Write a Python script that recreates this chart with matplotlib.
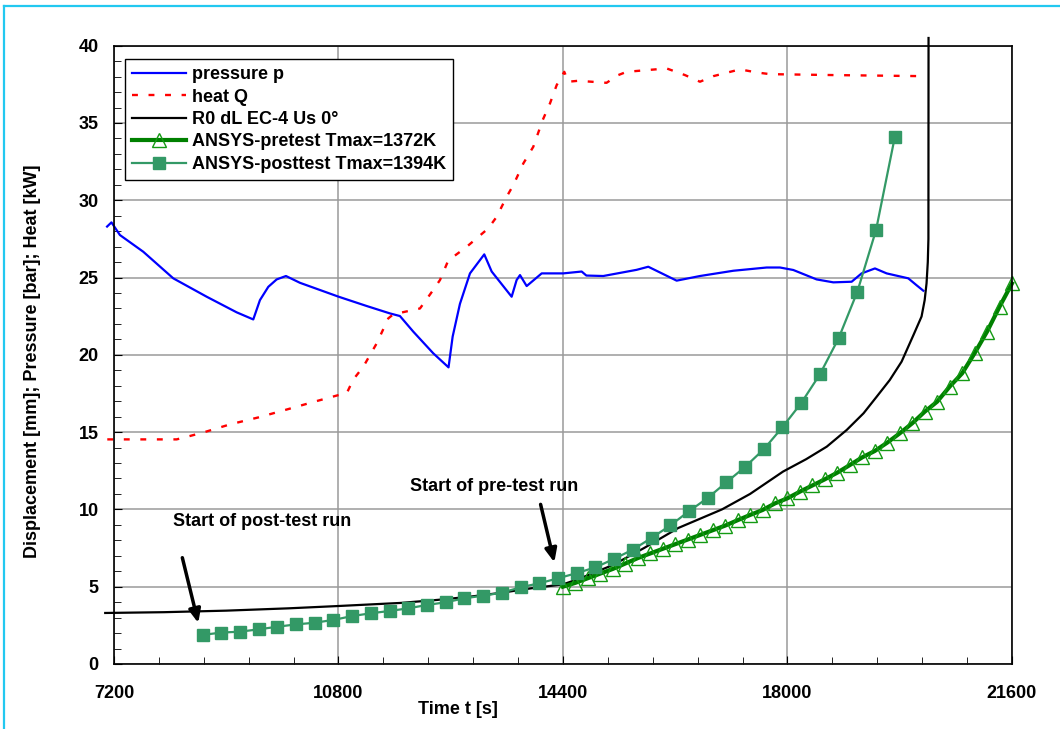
import numpy as np
import matplotlib
matplotlib.use("Agg")
import matplotlib.pyplot as plt
from matplotlib.lines import Line2D
from matplotlib.ticker import MultipleLocator

plt.rcParams['font.family'] = ['Liberation Sans', 'DejaVu Sans']
plt.rcParams['font.weight'] = 'bold'

# pressure p [bar]
pressure_t = [7090, 7160, 7296, 7670, 8151, 8687, 9168, 9434, 9541, 9675,
              9809, 9958, 10183, 10803, 11252, 11626, 11786, 12000, 12320, 12565,
              12631, 12748, 12909, 13138, 13257, 13577, 13657, 13711, 13818, 14059,
              14405, 14700, 14775, 15046, 15581, 15768, 16223, 16597, 17131, 17666,
              17880, 18093, 18467, 18735, 19029, 19189, 19403, 19590, 19937, 20071,
              20178]
pressure_p = [28.3, 28.57, 27.75, 26.67, 24.95, 23.76, 22.75, 22.29, 23.54, 24.4,
              24.88, 25.1, 24.66, 23.76, 23.16, 22.68, 22.51, 21.5, 20.1, 19.19,
              21.18, 23.3, 25.27, 26.5, 25.39, 23.76, 24.84, 25.16, 24.45, 25.27,
              25.27, 25.39, 25.13, 25.1, 25.5, 25.7, 24.8, 25.1, 25.44, 25.65,
              25.65, 25.49, 24.88, 24.69, 24.73, 25.27, 25.59, 25.27, 24.95, 24.5,
              24.15]

# heat Q [kW]
heat_t = [7093, 8205, 8419, 8643, 9060, 9514, 9942, 10370, 10803, 10931,
          11037, 11198, 11413, 11599, 11679, 12107, 12320, 12428, 12560, 12856,
          13202, 13337, 13497, 13604, 13764, 13924, 14075, 14192, 14299, 14421,
          14485, 14645, 15099, 15287, 15421, 16062, 16356, 16597, 16811, 17238,
          17506, 17720, 18735, 20178]
heat_q = [14.53, 14.53, 14.75, 14.99, 15.5, 15.95, 16.43, 16.92, 17.4, 17.5,
          18.4, 19.23, 20.74, 22.36, 22.62, 23.0, 24.2, 24.84, 26.1, 26.99,
          28.18, 28.93, 30.23, 30.98, 32.38, 33.46, 35.19, 36.27, 37.45, 38.31,
          37.67, 37.73, 37.6, 38.1, 38.31, 38.53, 38.1, 37.67, 38.03, 38.47,
          38.27, 38.16, 38.1, 38.03]

# measured displacement R0 dL EC-4 Us 0deg [mm]
disp_t = [7060, 8000, 9000, 10000, 10800, 11800, 12400, 12900, 13400, 13900,
          14400, 14650, 15200, 15700, 16250, 16950, 17400, 17930, 18300, 18630,
          18950, 19220, 19430, 19640, 19830, 20020, 20150, 20200, 20230, 20250,
          20260, 20262]
disp_mm = [3.3, 3.35, 3.45, 3.6, 3.75, 3.95, 4.15, 4.35, 4.6, 4.9,
           5.15, 5.5, 6.4, 7.5, 8.8, 10.0, 11.0, 12.45, 13.25, 14.06,
           15.14, 16.22, 17.29, 18.37, 19.56, 21.28, 22.48, 23.54, 24.63, 26.0,
           27.5, 40.5]

# ANSYS pretest (every 200 s from 14400 s)
pre_t = np.arange(14400, 21601, 200)
pre_mm = [5.0, 5.25, 5.55, 5.85, 6.15, 6.5, 6.85, 7.15, 7.45, 7.75,
          8.05, 8.35, 8.65, 8.95, 9.3, 9.64, 9.96, 10.39, 10.72, 11.15,
          11.55, 11.95, 12.38, 12.87, 13.37, 13.78, 14.32, 14.92, 15.57, 16.32,
          16.97, 17.94, 18.8, 20.1, 21.5, 23.11, 24.62]

# ANSYS posttest (every 300 s from 8620 s)
post_t = np.arange(8620, 19721, 300)
post_mm = [1.88, 2.03, 2.09, 2.24, 2.41, 2.56, 2.67, 2.85, 3.10, 3.28,
           3.43, 3.60, 3.82, 3.99, 4.25, 4.42, 4.61, 4.96, 5.22, 5.54,
           5.88, 6.25, 6.8, 7.4, 8.15, 8.96, 9.88, 10.74, 11.75, 12.75,
           13.89, 15.32, 16.88, 18.74, 21.07, 24.08, 28.07, 34.07]

fig = plt.figure(figsize=(10.6, 7.29), dpi=100)
ax = fig.add_axes([0.1075, 0.0892, 0.8472, 0.8481])

ax.plot(pressure_t, pressure_p, color='#0000ff', lw=1.6, label='pressure p', clip_on=False)
ax.plot(heat_t, heat_q, color='#ff0000', lw=1.7, ls=(0, (2.5, 4.5)), label='heat Q', clip_on=False)
ax.plot(disp_t, disp_mm, color='black', lw=1.6, label='R0 dL EC-4 Us 0°', clip_on=False)
ax.plot(pre_t, pre_mm, color='#008000', lw=3, marker='^', ms=10, mfc='none',
        mec='#139a13', mew=1.0, label='ANSYS-pretest Tmax=1372K', clip_on=False)
ax.plot(post_t, post_mm, color='#339966', lw=1.6, marker='s', ms=8,
        mfc='#339966', mec='#339966', label='ANSYS-posttest Tmax=1394K')

ax.set_xlim(7200, 21600)
ax.set_ylim(0, 40)
ax.xaxis.set_major_locator(MultipleLocator(3600))
ax.xaxis.set_minor_locator(MultipleLocator(720))
ax.yaxis.set_major_locator(MultipleLocator(5))
ax.yaxis.set_minor_locator(MultipleLocator(1))
ax.tick_params(which='both', direction='in', labelsize=13, color='black')
ax.tick_params(which='major', length=6)
ax.tick_params(which='minor', length=5)
ax.tick_params(axis='x', pad=15)
ax.tick_params(axis='y', pad=11)
ax.grid(True, which='major', color='#9a9a9a', lw=1.1)
ax.set_axisbelow(True)
for s in ax.spines.values():
    s.set_linewidth(1.2)

ax.set_xlabel('Time t [s]', fontsize=13, fontweight='bold')
ax.xaxis.set_label_coords(0.383, -0.074)
ax.xaxis.label.set_va('center')
ax.set_ylabel('Displacement [mm]; Pressure [bar]; Heat [kW]', fontsize=13, fontweight='bold')
ax.yaxis.set_label_coords(-0.091, 0.49)
ax.yaxis.label.set_va('center')

leg = ax.legend(loc='upper left', bbox_to_anchor=(0.0122, 0.9785), borderaxespad=0,
                fancybox=False, framealpha=1, edgecolor='black', fontsize=13,
                handlelength=3.0, handletextpad=0.3, labelspacing=0.3,
                borderpad=0.4, numpoints=1)
leg.get_frame().set_linewidth(1.0)

ax.annotate('', xy=(8563, 2.48), xytext=(8286, 7.05),
            arrowprops=dict(arrowstyle='-|>,head_length=0.8,head_width=0.35', color='black', lw=2.5))
ax.text(8150, 9.2, 'Start of post-test run', fontsize=13, fontweight='bold', va='center')
ax.annotate('', xy=(14272, 6.4), xytext=(14031, 10.5),
            arrowprops=dict(arrowstyle='-|>,head_length=0.8,head_width=0.35', color='black', lw=2.5))
ax.text(11940, 11.5, 'Start of pre-test run', fontsize=13, fontweight='bold', va='center')

# cyan frame around the picture
fig.add_artist(Line2D([0.004, 1.0], [0.9918, 0.9918], color='#22c8f0', lw=1.6))
fig.add_artist(Line2D([0.004, 0.004], [0.0, 0.9918], color='#22c8f0', lw=1.6))

fig.savefig('out.png', dpi=100)
